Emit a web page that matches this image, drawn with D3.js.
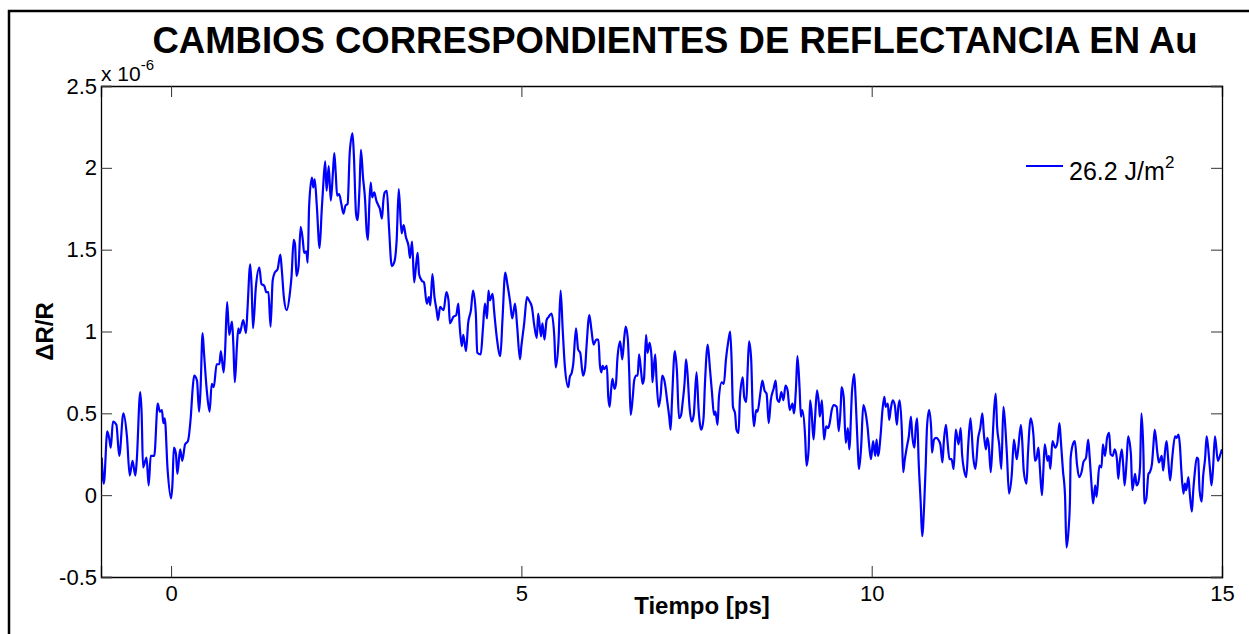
<!DOCTYPE html>
<html>
<head>
<meta charset="utf-8">
<script src="https://cdn.jsdelivr.net/npm/d3@7"></script>
<style>
  body { margin: 0; background: #fff; }
  text { font-family: "Liberation Sans", Arial, sans-serif; fill: #000; }
</style>
</head>
<body>
<svg id="chart" width="1249" height="634"></svg>
<script>
// tiempo en ps, deltaR en unidades de 1e-6
const tiempo = [
  -0.99,-0.96,-0.91,-0.88,-0.86,-0.83,-0.78,-0.74,-0.68,-0.63,-0.59,-0.55,-0.51,-0.49,-0.44,-0.42,-0.40,-0.35,-0.32,-0.29,
  -0.24,-0.19,-0.16,-0.13,-0.11,-0.09,-0.05,0.00,0.02,0.04,0.07,0.09,0.13,0.16,0.20,0.24,0.28,0.31,0.33,0.37,
  0.40,0.42,0.45,0.47,0.51,0.55,0.58,0.61,0.65,0.69,0.71,0.75,0.77,0.80,0.83,0.87,0.89,0.91,0.94,0.96,
  0.98,1.03,1.07,1.09,1.13,1.15,1.17,1.21,1.26,1.29,1.33,1.36,1.39,1.42,1.45,1.48,1.52,1.56,1.58,1.61,
  1.65,1.70,1.72,1.75,1.77,1.79,1.82,1.85,1.88,1.90,1.93,1.95,1.97,2.01,2.03,2.05,2.08,2.12,2.15,2.17,
  2.20,2.22,2.25,2.28,2.31,2.33,2.35,2.37,2.40,2.43,2.46,2.49,2.52,2.55,2.59,2.61,2.64,2.66,2.69,2.71,
  2.74,2.77,2.79,2.81,2.83,2.85,2.87,2.90,2.93,2.96,2.98,3.01,3.03,3.05,3.08,3.11,3.15,3.19,3.22,3.25,
  3.29,3.32,3.35,3.39,3.41,3.44,3.47,3.50,3.52,3.54,3.58,3.61,3.65,3.68,3.70,3.73,3.76,3.79,3.81,3.84,
  3.89,3.93,3.96,3.98,4.03,4.07,4.10,4.12,4.15,4.17,4.21,4.24,4.28,4.31,4.35,4.37,4.42,4.45,4.48,4.51,
  4.53,4.55,4.59,4.61,4.65,4.70,4.73,4.77,4.80,4.84,4.87,4.91,4.94,4.98,5.00,5.04,5.08,5.11,5.15,5.18,
  5.22,5.24,5.28,5.30,5.33,5.36,5.39,5.43,5.47,5.49,5.53,5.56,5.59,5.62,5.67,5.69,5.72,5.74,5.78,5.81,
  5.84,5.88,5.91,5.93,5.97,6.00,6.03,6.07,6.10,6.12,6.14,6.16,6.18,6.22,6.24,6.26,6.28,6.30,6.33,6.35,
  6.37,6.41,6.44,6.47,6.49,6.52,6.54,6.56,6.59,6.61,6.64,6.66,6.68,6.71,6.73,6.75,6.78,6.80,6.83,6.86,
  6.87,6.91,6.93,6.96,6.99,7.01,7.05,7.08,7.11,7.13,7.15,7.19,7.22,7.25,7.28,7.30,7.33,7.35,7.37,7.40,
  7.43,7.46,7.50,7.53,7.55,7.57,7.60,7.62,7.66,7.69,7.72,7.75,7.77,7.80,7.82,7.86,7.89,7.92,7.95,7.98,
  8.00,8.02,8.05,8.07,8.10,8.12,8.16,8.18,8.21,8.23,8.25,8.28,8.30,8.32,8.35,8.37,8.41,8.44,8.47,8.50,
  8.53,8.56,8.60,8.63,8.65,8.68,8.71,8.74,8.77,8.80,8.83,8.87,8.89,8.92,8.94,8.97,8.99,9.01,9.05,9.07,
  9.10,9.12,9.14,9.17,9.19,9.22,9.25,9.26,9.29,9.32,9.35,9.38,9.40,9.43,9.46,9.50,9.53,9.56,9.57,9.60,
  9.63,9.66,9.68,9.72,9.75,9.77,9.79,9.82,9.85,9.88,9.91,9.94,9.97,9.99,10.02,10.05,10.07,10.09,10.13,10.15,
  10.18,10.20,10.23,10.25,10.27,10.30,10.33,10.36,10.38,10.40,10.43,10.45,10.47,10.50,10.53,10.56,10.58,10.61,10.63,10.65,
  10.67,10.70,10.72,10.75,10.77,10.79,10.82,10.85,10.86,10.89,10.92,10.95,10.98,11.01,11.03,11.06,11.08,11.11,11.14,11.17,
  11.20,11.24,11.27,11.29,11.32,11.35,11.38,11.41,11.45,11.48,11.52,11.55,11.58,11.60,11.63,11.65,11.67,11.70,11.73,11.75,
  11.77,11.79,11.82,11.85,11.88,11.90,11.93,11.96,12.00,12.03,12.07,12.09,12.13,12.15,12.17,12.21,12.23,12.27,12.31,12.33,
  12.35,12.38,12.40,12.43,12.45,12.47,12.51,12.53,12.55,12.58,12.62,12.65,12.68,12.70,12.73,12.76,12.78,12.81,12.83,12.84,
  12.88,12.90,12.93,12.96,13.00,13.02,13.06,13.09,13.11,13.14,13.16,13.19,13.21,13.25,13.28,13.30,13.33,13.36,13.39,13.41,
  13.44,13.47,13.50,13.52,13.54,13.57,13.59,13.61,13.64,13.66,13.70,13.72,13.76,13.78,13.80,13.83,13.85,13.88,13.89,13.92,
  13.95,13.97,14.00,14.02,14.04,14.08,14.10,14.14,14.16,14.19,14.21,14.23,14.26,14.29,14.33,14.35,14.38,14.40,14.42,14.45,
  14.47,14.49,14.52,14.54,14.57,14.59,14.61,14.64,14.66,14.68,14.71,14.73,14.76,14.78,14.80,14.83,14.85,14.87,14.90,14.94,
  14.97,15.00
];

const deltaR = [
  0.23,0.07,0.39,0.34,0.29,0.45,0.43,0.24,0.50,0.36,0.12,0.21,0.12,0.21,0.63,0.50,0.17,0.23,0.06,0.24,
  0.24,0.56,0.51,0.52,0.44,0.47,0.16,-0.02,0.07,0.29,0.25,0.13,0.28,0.21,0.31,0.33,0.47,0.66,0.73,0.70,
  0.51,0.64,0.99,0.87,0.64,0.51,0.68,0.66,0.80,0.80,0.88,0.75,0.87,1.18,0.98,1.06,0.91,0.69,0.91,1.02,
  0.99,1.07,0.99,1.13,1.41,1.27,1.02,1.27,1.39,1.29,1.28,1.24,1.24,1.03,1.31,1.36,1.38,1.47,1.38,1.21,
  1.13,1.25,1.34,1.56,1.53,1.34,1.40,1.64,1.56,1.48,1.49,1.42,1.76,1.94,1.88,1.93,1.77,1.51,1.74,1.88,
  2.04,1.86,2.01,1.80,1.97,2.09,1.97,1.83,1.84,1.78,1.72,1.77,1.78,2.09,2.21,2.07,1.72,1.68,1.88,2.11,
  1.94,1.80,1.62,1.56,1.78,1.91,1.82,1.85,1.80,1.77,1.75,1.69,1.80,1.85,1.86,1.64,1.40,1.43,1.56,1.87,
  1.60,1.65,1.58,1.52,1.45,1.55,1.30,1.42,1.48,1.35,1.31,1.30,1.17,1.21,1.16,1.35,1.21,1.13,1.07,1.15,
  1.13,1.24,1.19,1.05,1.09,1.10,1.17,1.03,0.91,0.98,0.88,1.05,1.13,1.25,1.11,0.87,0.86,1.01,1.17,1.08,
  1.25,1.19,1.23,1.13,0.96,0.85,1.07,1.36,1.29,1.18,1.08,1.17,1.03,0.83,0.91,1.05,1.21,1.19,1.15,1.05,
  0.96,1.11,0.97,1.05,0.95,1.07,1.09,1.11,0.97,0.78,0.94,1.25,1.01,0.79,0.66,0.72,0.75,0.80,1.02,0.89,
  0.87,0.73,0.78,0.91,1.10,1.01,0.92,0.95,0.95,0.80,0.75,0.79,0.77,0.79,0.60,0.54,0.64,0.71,0.65,0.68,
  0.83,0.94,0.83,0.97,1.03,0.95,0.74,0.49,0.60,0.70,0.73,0.73,0.86,0.75,0.68,0.71,0.98,0.87,0.93,0.83,
  0.69,0.86,0.70,0.54,0.62,0.73,0.68,0.58,0.48,0.40,0.58,0.88,0.76,0.47,0.49,0.56,0.69,0.83,0.75,0.54,
  0.45,0.49,0.75,0.52,0.43,0.40,0.47,0.68,0.92,0.78,0.63,0.49,0.51,0.43,0.60,0.69,0.68,0.83,0.93,1.00,
  0.83,0.54,0.50,0.40,0.38,0.60,0.72,0.60,0.57,0.77,0.94,0.83,0.54,0.42,0.52,0.51,0.62,0.70,0.64,0.62,
  0.44,0.58,0.65,0.70,0.59,0.57,0.63,0.58,0.67,0.64,0.52,0.56,0.50,0.66,0.85,0.66,0.48,0.52,0.36,0.18,
  0.28,0.58,0.52,0.34,0.46,0.64,0.54,0.48,0.58,0.34,0.42,0.41,0.44,0.52,0.55,0.54,0.39,0.56,0.66,0.60,
  0.32,0.41,0.28,0.64,0.74,0.60,0.40,0.16,0.30,0.55,0.51,0.42,0.28,0.22,0.33,0.24,0.34,0.24,0.38,0.50,
  0.60,0.54,0.56,0.46,0.52,0.58,0.55,0.43,0.54,0.58,0.40,0.14,0.21,0.29,0.36,0.48,0.36,0.29,0.42,0.47,
  0.21,-0.05,-0.25,-0.05,0.17,0.42,0.52,0.40,0.26,0.34,0.35,0.34,0.31,0.20,0.33,0.43,0.34,0.22,0.22,0.16,
  0.40,0.31,0.41,0.25,0.15,0.11,0.32,0.47,0.23,0.16,0.35,0.41,0.50,0.38,0.28,0.35,0.31,0.14,0.38,0.54,
  0.62,0.42,0.31,0.16,0.54,0.46,0.25,0.01,0.13,0.34,0.22,0.28,0.43,0.32,0.15,0.07,0.25,0.47,0.36,0.21,
  0.22,0.29,0.17,0.00,0.15,0.31,0.21,0.24,0.16,0.33,0.29,0.32,0.44,0.33,0.15,-0.01,-0.32,-0.21,-0.03,0.23,
  0.32,0.33,0.19,0.11,0.15,0.20,0.23,0.34,0.24,0.05,-0.05,0.06,-0.01,0.18,0.17,0.31,0.24,0.35,0.38,0.25,
  0.24,0.28,0.22,0.10,0.20,0.28,0.18,0.06,0.22,0.36,0.25,0.03,0.13,0.06,0.07,0.17,0.50,0.23,-0.05,-0.02,
  0.13,0.14,0.19,0.30,0.40,0.25,0.20,0.24,0.15,0.28,0.33,0.23,0.09,0.23,0.36,0.35,0.37,0.30,0.15,0.01,
  0.07,0.03,0.11,0.01,-0.10,0.03,0.13,0.23,0.22,0.03,-0.04,0.11,0.23,0.36,0.30,0.15,0.06,0.15,0.36,0.21,
  0.24,0.28
];

const xTicks = [0, 5, 10, 15];
const yTicks = [-0.5, 0, 0.5, 1, 1.5, 2, 2.5];
const yTickLabels = ["-0.5", "0", "0.5", "1", "1.5", "2", "2.5"];
const titulo = "CAMBIOS CORRESPONDIENTES DE REFLECTANCIA EN Au";
const etiquetaX = "Tiempo [ps]";
const etiquetaY = "\u0394R/R";
const leyenda = "26.2 J/m";

const width = 1249, height = 634;
const margin = {top: 86, right: 27, bottom: 57, left: 101};

const data = tiempo.map((t, i) => [t, deltaR[i]]);

const svg = d3.select("#chart");

const x = d3.scaleLinear()
    .domain([-1, 15])
    .range([margin.left, width - margin.right]);

const y = d3.scaleLinear()
    .domain([-0.5, 2.5])
    .range([height - margin.bottom, margin.top]);

// marco exterior de la figura
svg.append("rect")
    .attr("x", 9).attr("y", 11)
    .attr("width", width + 20).attr("height", height + 20)
    .attr("fill", "none")
    .attr("stroke", "#000")
    .attr("stroke-width", 2.5);

svg.append("defs").append("clipPath")
    .attr("id", "clip")
  .append("rect")
    .attr("x", x.range()[0]).attr("y", y.range()[1])
    .attr("width", x.range()[1] - x.range()[0])
    .attr("height", y.range()[0] - y.range()[1]);

const line = d3.line()
    .x(d => x(d[0]))
    .y(d => y(d[1]))
    .curve(d3.curveMonotoneX);

svg.append("path")
    .datum(data)
    .attr("clip-path", "url(#clip)")
    .attr("fill", "none")
    .attr("stroke", "#0000ff")
    .attr("stroke-width", 2.2)
    .attr("stroke-linejoin", "round")
    .attr("d", line);

// ejes con marcas hacia dentro (estilo MATLAB)
const tickLen = 11;
svg.append("g")
    .attr("transform", `translate(0,${y.range()[0]})`)
    .call(d3.axisBottom(x).tickValues(xTicks).tickSize(-tickLen).tickFormat(d3.format("d")))
    .call(g => g.selectAll("text").attr("font-size", 22).attr("dy", "0.71em").attr("y", 8));

svg.append("g")
    .attr("transform", `translate(0,${y.range()[1]})`)
    .call(d3.axisTop(x).tickValues(xTicks).tickSize(-tickLen).tickFormat(""));

svg.append("g")
    .attr("transform", `translate(${x.range()[0]},0)`)
    .call(d3.axisLeft(y).tickValues(yTicks).tickSize(-tickLen)
      .tickFormat((d, i) => yTickLabels[i]))
    .call(g => g.selectAll("text").attr("font-size", 22).attr("x", -4));

svg.append("g")
    .attr("transform", `translate(${x.range()[1]},0)`)
    .call(d3.axisRight(y).tickValues(yTicks).tickSize(-tickLen).tickFormat(""));

svg.selectAll(".domain").attr("stroke", "#000").attr("stroke-width", 1.3);
svg.selectAll(".tick line").attr("stroke", "#333").attr("stroke-width", 1);
svg.selectAll(".tick text").attr("font-family", "Liberation Sans, Arial, sans-serif").attr("fill", "#000");

// multiplicador del eje y
const mult = svg.append("text")
    .attr("x", 101).attr("y", 81)
    .attr("font-size", 21);
mult.append("tspan").text("x 10");
mult.append("tspan").attr("font-size", 15).attr("dy", -11).text("-6");

svg.append("text")
    .attr("x", 675).attr("y", 53)
    .attr("text-anchor", "middle")
    .attr("font-size", 36.5)
    .attr("font-weight", "bold")
    .text(titulo);

svg.append("text")
    .attr("x", 702).attr("y", 614)
    .attr("text-anchor", "middle")
    .attr("font-size", 24)
    .attr("font-weight", "bold")
    .text(etiquetaX);

svg.append("text")
    .attr("transform", `translate(53,${(y.range()[0] + y.range()[1]) / 2}) rotate(-90)`)
    .attr("text-anchor", "middle")
    .attr("font-size", 24)
    .attr("font-weight", "bold")
    .text(etiquetaY);

// leyenda
svg.append("line")
    .attr("x1", 1026).attr("x2", 1063)
    .attr("y1", 166).attr("y2", 166)
    .attr("stroke", "#0000ff")
    .attr("stroke-width", 2);

const leg = svg.append("text")
    .attr("x", 1069).attr("y", 180)
    .attr("font-size", 25);
leg.append("tspan").text(leyenda);
leg.append("tspan").attr("font-size", 17).attr("dy", -12).text("2");
</script>
</body>
</html>
